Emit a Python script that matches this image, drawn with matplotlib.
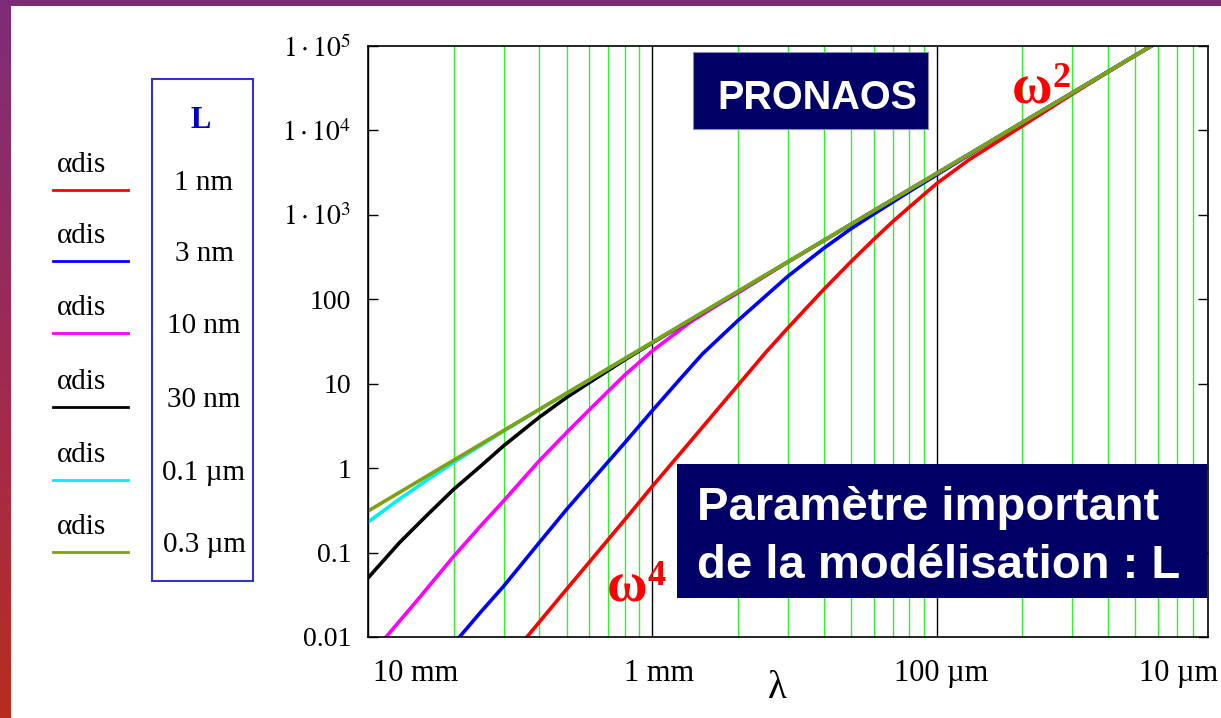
import matplotlib
matplotlib.use('Agg')
import matplotlib.pyplot as plt
import numpy as np
from matplotlib.patches import Rectangle
from matplotlib.ticker import LogLocator, NullLocator

plt.rcParams['font.family'] = ['Liberation Serif', 'DejaVu Serif']
plt.rcParams['mathtext.fontset'] = 'stix'

# x = inverse wavelength in 1/cm (10 mm -> 1, 1 mm -> 10, 100 um -> 100)
red_nu = [3.5, 4, 5, 6, 8, 10, 15, 20, 25, 30, 40, 50, 60, 70, 80, 100, 130, 150,
          200, 300, 500, 900]
red = [0.0087, 0.0150, 0.037, 0.077, 0.245, 0.61, 3.05, 9.6, 23.3, 46, 130, 280,
       510, 830, 1230, 2350, 4500, 6100, 11300, 27000, 77500, 251000]

blue_nu = [2, 2.5, 3, 4, 5, 6, 8, 10, 12.5, 15, 20, 30, 40, 50, 60, 80, 100, 150,
           200, 500, 900]
blue = [0.0083, 0.020, 0.040, 0.131, 0.326, 0.66, 2.0, 4.8, 11.3, 22.5, 56, 188,
        400, 686, 1020, 1880, 2980, 6900, 12400, 77500, 251000]

magenta_nu = [1, 1.5, 2, 2.5, 3, 4, 5, 6, 8, 10, 13.6, 17, 20, 30, 60, 100, 200,
              500, 900]
magenta = [0.0056, 0.028, 0.09, 0.21, 0.41, 1.22, 2.65, 4.9, 12.7, 24.5, 53.7, 86,
           119, 277, 1115, 3095, 12400, 77500, 251000]

black_nu = [1, 1.29, 1.6, 2, 2.46, 3, 4, 5, 6, 8, 10, 20, 60, 100, 200, 500, 900]
black = [0.05, 0.131, 0.27, 0.56, 1.02, 1.84, 4.0, 6.9, 10.3, 19.2, 30.5, 123,
         1115, 3095, 12400, 77500, 251000]

cyan_nu = [1, 1.29, 1.6, 2, 3, 4, 6, 10, 20, 60, 100, 200, 500, 900]
cyan = [0.23, 0.43, 0.71, 1.17, 2.75, 4.93, 11.1, 31, 124, 1116, 3100, 12400,
        77500, 251000]

olive_nu = [1, 2, 4, 10, 20, 40, 100, 200, 400, 900]
olive = [0.31, 1.24, 4.96, 31, 124, 496, 3100, 12400, 49600, 251000]

curves = [(red_nu, red, '#ff0000'), (blue_nu, blue, '#0000ff'),
          (magenta_nu, magenta, '#ff00ff'), (black_nu, black, '#000000'),
          (cyan_nu, cyan, '#00f0f0'), (olive_nu, olive, '#80a010')]
L_labels = ['1 nm', '3 nm', '10 nm', '30 nm', '0.1 µm', '0.3 µm']

yticks = [0.01, 0.1, 1, 10, 100, 1e3, 1e4, 1e5]
ylabels = ['0.01', '0.1', '1', '10', '100', r'$1\cdot10^{3}$', r'$1\cdot10^{4}$',
           r'$1\cdot10^{5}$']
xlab_pos = [1.47, 10.6, 104, 975]
xlab_txt = ['10 mm', '1 mm', '100 µm', '10 µm']
xlab_ha = ['center', 'center', 'center', 'right']

W, H = 1221, 718
fig = plt.figure(figsize=(W / 100, H / 100), dpi=100)

# background: slide frame and legend
bg = fig.add_axes([0, 0, 1, 1], zorder=0)
bg.set_xlim(0, W)
bg.set_ylim(H, 0)
bg.axis('off')
c0 = np.array([125, 45, 120]) / 255
c1 = np.array([165, 42, 75]) / 255
c2 = np.array([185, 45, 30]) / 255
t = np.linspace(0, 1, 200)[:, None]
grad = np.where(t < 0.6, c0 + (c1 - c0) * (t / 0.6), c1 + (c2 - c1) * ((t - 0.6) / 0.4))
bg.imshow(grad[:, None, :], extent=(0, 11, H, 0), aspect='auto')
bg.add_patch(Rectangle((0, 0), W, 6, color=(125 / 255, 45 / 255, 120 / 255), lw=0))

leg_y = [190, 261, 333, 407, 480, 552]
for (nu_, a_, col), lab, y in zip(curves, L_labels, leg_y):
    bg.plot([53, 128], [y, y], color=col, lw=2)
    bg.text(57, y - 18, 'αdis', fontsize=21, va='baseline', ha='left')
    bg.text(204, y, lab, fontsize=21, va='baseline', ha='center')
bg.add_patch(Rectangle((152, 79), 101, 502, fill=False, ec='#3333cc', lw=1.5))
bg.text(201, 128, 'L', fontsize=22, fontweight='bold', color='#0000cc',
        va='baseline', ha='center')

# main log-log chart
ax = fig.add_axes([368 / W, 1 - 637 / H, (1208 - 368) / W, (637 - 46) / H], zorder=1)
for nu_, a_, col in curves:
    ax.plot(nu_, a_, color=col, lw=2.6, solid_joinstyle='round')
ax.set_xscale('log')
ax.set_yscale('log')
ax.set_xlim(1, 900)
ax.set_ylim(0.01, 1e5)

ax.xaxis.set_major_locator(LogLocator(base=10))
ax.xaxis.set_minor_locator(LogLocator(base=10, subs=np.arange(2, 10)))
ax.grid(True, which='minor', axis='x', color='#33ee33', lw=1)
ax.grid(True, which='major', axis='x', color='black', lw=1)
ax.set_axisbelow(True)
ax.tick_params(axis='x', which='both', length=0, labelbottom=False)

ax.set_yticks(yticks, ylabels)
ax.yaxis.set_minor_locator(NullLocator())
ax.tick_params(axis='y', which='major', direction='in', length=7, width=1,
               right=True, labelsize=20, pad=12)
for s in ax.spines.values():
    s.set_linewidth(1.2)

for xp, txt, ha in zip(xlab_pos, xlab_txt, xlab_ha):
    ax.text(xp, -0.061, txt, transform=ax.get_xaxis_transform(), ha=ha,
            va='center', fontsize=22, clip_on=False)
ax.text(27.5, -0.087, 'λ', transform=ax.get_xaxis_transform(), ha='center',
        va='center', fontsize=28, clip_on=False)

# annotations on top
ov = fig.add_axes([0, 0, 1, 1], zorder=5)
ov.set_xlim(0, W)
ov.set_ylim(H, 0)
ov.axis('off')
ov.patch.set_alpha(0)

ov.add_patch(Rectangle((693, 52), 235, 77, fc='#000066', ec='#8888bb', lw=0.8))
ov.text(817, 109, 'PRONAOS', family='Liberation Sans', fontweight='bold',
        fontsize=28.5, color='white', ha='center', va='baseline')
ov.add_patch(Rectangle((677, 464), 530, 134, fc='#000066', lw=0))
ov.text(697, 520, 'Paramètre important', family='Liberation Sans',
        fontweight='bold', fontsize=34, color='white', va='baseline')
ov.text(697, 578, 'de la modélisation : L', family='Liberation Sans',
        fontweight='bold', fontsize=34, color='white', va='baseline')

ov.text(1012, 103, 'ω', fontsize=40, fontweight='bold', color='#ff0000', va='baseline')
ov.text(1053, 87, '2', fontsize=26, fontweight='bold', color='#ff0000', va='baseline')
ov.text(607, 602, 'ω', fontsize=40, fontweight='bold', color='#ff0000', va='baseline')
ov.text(647, 585, '4', fontsize=26, fontweight='bold', color='#ff0000', va='baseline')

fig.savefig('out.png', dpi=100)
